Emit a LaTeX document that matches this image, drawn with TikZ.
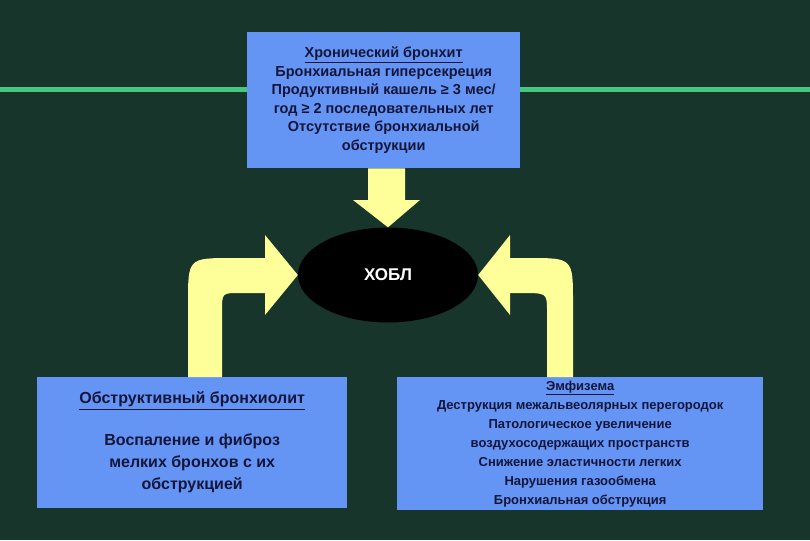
\documentclass[tikz,border=0pt]{standalone}
\usepackage{fontspec}
\setmainfont{Liberation Sans}
\usetikzlibrary{shapes.geometric}
\definecolor{bg}{HTML}{17352A}
\definecolor{gline}{HTML}{45C77F}
\definecolor{boxc}{HTML}{6495F5}
\definecolor{txt}{HTML}{15153A}
\definecolor{arr}{HTML}{FFFF99}
\tikzset{box/.style={fill=boxc,draw=none,text=txt,align=center,inner sep=0pt,font=\bfseries},
yarrow/.style={fill=arr,draw=none}}
\begin{document}
\begin{tikzpicture}[x=1pt,y=-1pt]
\fill[bg] (0,0) rectangle (810,540);
\useasboundingbox (0,0) rectangle (810,540);
\draw[gline,line width=5pt] (0,90) -- (810,90);
\node[box,minimum width=273pt,minimum height=136pt,anchor=north west,font=\bfseries\fontsize{14.5}{18.5}\selectfont] (top) at (247,32)
 {\underline{Хронический бронхит}\\Бронхиальная гиперсекреция\\Продуктивный кашель ≥ 3 мес/\\год ≥ 2 последовательных лет\\Отсутствие бронхиальной\\обструкции};
\node[ellipse,fill=black,minimum width=180pt,minimum height=95pt,inner sep=0pt,text=white,font=\bfseries\fontsize{17}{20}\selectfont] (copd) at (388,275) {ХОБЛ};
\node[box,minimum width=310pt,minimum height=131pt,anchor=north west,font=\bfseries\fontsize{16}{22}\selectfont] (bl) at (37,377)
 {\underline{Обструктивный бронхиолит}\\[20pt]Воспаление и фиброз\\мелких бронхов с их\\обструкцией};
\node[box,minimum width=366pt,minimum height=133pt,anchor=north west,font=\bfseries\fontsize{13}{19}\selectfont] (br) at (397,377)
 {\underline{Эмфизема}\\Деструкция межальвеолярных перегородок\\Патологическое увеличение\\воздухосодержащих пространств\\Снижение эластичности легких\\Нарушения газообмена\\Бронхиальная обструкция};
% down arrow
\fill[yarrow] (top.south -| 368,0) -- (368,200) -- (353,200) -- (copd.north) -- (420,200) -- (405,200) -- (top.south -| 405,0) -- cycle;
% left curved arrow
\fill[yarrow] (bl.north -| 188,0) -- (188,303) .. controls (188,258) .. (233,258) -- (265,258) -- (265,235) -- (copd.west) -- (265,315) -- (265,293) -- (240,293) .. controls (222,293) .. (222,311) -- (bl.north -| 222,0) -- cycle;
% right curved arrow
\fill[yarrow] (br.north -| 573,0) -- (573,303) .. controls (573,258) .. (528,258) -- (510,258) -- (510,235) -- (copd.east) -- (510,315) -- (510,293) -- (521,293) .. controls (547,293) .. (547,311) -- (br.north -| 547,0) -- cycle;
\end{tikzpicture}
\end{document}
